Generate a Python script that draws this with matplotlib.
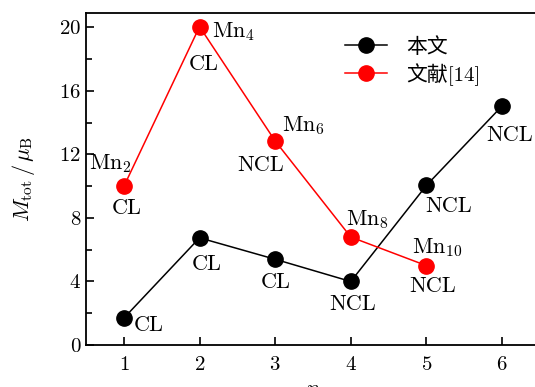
import matplotlib
matplotlib.use("Agg")
import matplotlib.pyplot as plt
from matplotlib.ticker import MultipleLocator

plt.rcParams["font.family"] = ["cmr10", "Noto Sans CJK SC"]
plt.rcParams["mathtext.fontset"] = "cm"
plt.rcParams["axes.formatter.use_mathtext"] = True

# data
n_this = [1, 2, 3, 4, 5, 6]
m_this = [1.7, 6.75, 5.4, 4.0, 10.05, 15.05]
lab_this = ["CL", "CL", "CL", "NCL", "NCL", "NCL"]

n_ref = [1, 2, 3, 4, 5]
m_ref = [10.0, 20.05, 12.85, 6.8, 5.0]
lab_ref = ["CL", "CL", "NCL", "", "NCL"]
cluster_ref = ["Mn$_2$", "Mn$_4$", "Mn$_6$", "Mn$_8$", "Mn$_{10}$"]

# label offsets in pixels (dx, dy)
off_this = [(25, -7), (7, -26), (1, -23), (2, -23), (22, -21), (8, -29)]
off_ref_lab = [(3, -22), (4, -38), (-15, -24), (0, 0), (6, -21)]
off_ref_mn = [(-14, 23), (34, -5), (28, 15), (17, 17), (11, 18)]

fig = plt.figure(figsize=(5.35, 3.87), dpi=100)
ax = fig.add_axes([0.161, 0.1085, 0.848, 0.8575])

ax.plot(n_this, m_this, "-o", color="k", lw=1.1, ms=11, label="本文")
ax.plot(n_ref, m_ref, "-o", color="red", lw=1.1, ms=11, label="文献[14]")

fs = 16
px = 0.72  # points per pixel at dpi 100
for x, y, t, (dx, dy) in zip(n_this, m_this, lab_this, off_this):
    ax.annotate(t, (x, y), xytext=(dx * px, dy * px), textcoords="offset points",
                ha="center", va="center", fontsize=fs)
for x, y, t, (dx, dy) in zip(n_ref, m_ref, lab_ref, off_ref_lab):
    if t:
        ax.annotate(t, (x, y), xytext=(dx * px, dy * px), textcoords="offset points",
                    ha="center", va="center", fontsize=fs)
for x, y, t, (dx, dy) in zip(n_ref, m_ref, cluster_ref, off_ref_mn):
    ax.annotate(t, (x, y), xytext=(dx * px, dy * px), textcoords="offset points",
                ha="center", va="center", fontsize=fs)

ax.set_xlim(0.5, 6.5)
ax.set_ylim(0, 20.9)
ax.set_xticks([1, 2, 3, 4, 5, 6])
ax.set_yticks([0, 4, 8, 12, 16, 20])
ax.yaxis.set_minor_locator(MultipleLocator(2))
ax.tick_params(direction="in", labelsize=15, length=6, width=1.2)
ax.tick_params(which="minor", direction="in", length=4, width=1.2)
ax.tick_params(axis="x", pad=8)
for s in ax.spines.values():
    s.set_linewidth(1.3)

ax.set_xlabel("$n$", fontsize=fs, labelpad=4)
ax.set_ylabel(r"$M_{\rm tot}\,/\,\mu_{\rm B}$", fontsize=fs, labelpad=16)

ax.legend(loc="upper left", bbox_to_anchor=(0.53, 0.985), frameon=False,
          fontsize=15, handlelength=2.0, handletextpad=0.9, labelspacing=0.3)

fig.savefig("out.png", dpi=100)
